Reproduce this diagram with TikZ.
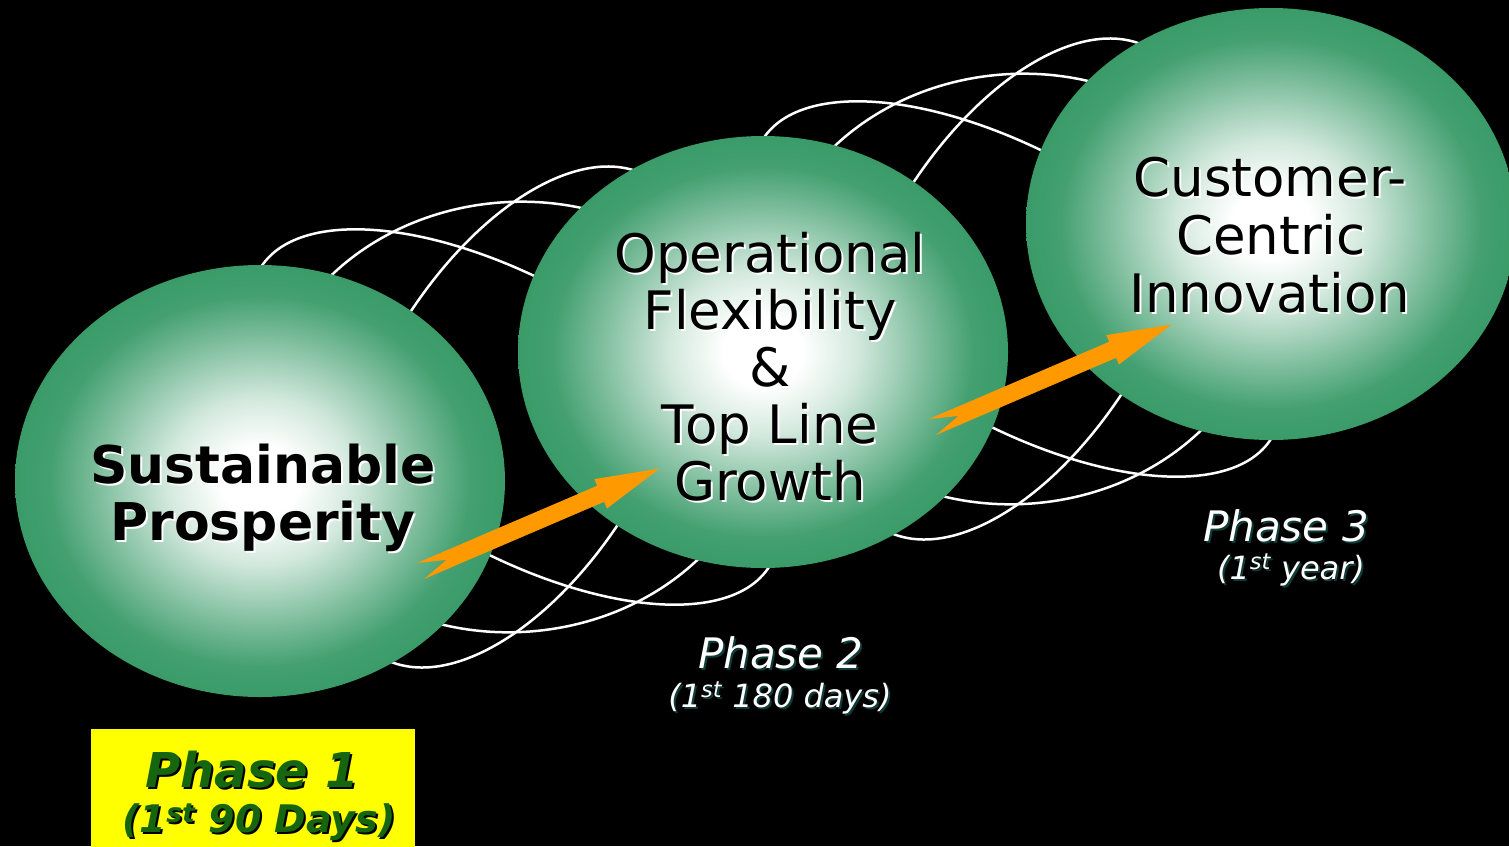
\documentclass[tikz,border=0pt]{standalone}
\usepackage{fontspec}
\setmainfont{DejaVu Sans}
\usetikzlibrary{shapes.geometric}
\definecolor{sgreen}{RGB}{58,155,105}
\colorlet{sgA}{sgreen!22!white}
\colorlet{sgB}{sgreen!62!white}
\colorlet{sgC}{sgreen!95!white}
\definecolor{arroworange}{RGB}{255,153,0}
\definecolor{pgreen}{RGB}{22,102,16}
\definecolor{tshadow}{RGB}{15,60,55}
\definecolor{pyellow}{RGB}{255,255,0}
\pgfdeclareradialshading{sphereshade}{\pgfpoint{0bp}{0bp}}{color(0bp)=(white); color(4bp)=(white); color(9.5bp)=(sgA); color(16bp)=(sgB); color(21.5bp)=(sgC); color(25bp)=(sgreen); color(50bp)=(sgreen)}
\newcommand{\mytxt}[5]{%
  \node[#2, text=#3, xshift=2pt, yshift=-2pt] (#1-sh) at (#4) {#5};
  \node[#2] (#1) at (#4) {#5};
}
\tikzset{
  wire/.style={draw=white, line width=2.5pt},
  sphere/.style={ellipse, inner sep=0pt, minimum width=490pt, minimum height=432pt, shade, shading=sphereshade},
  arrowshape/.style={fill=arroworange, draw=none},
  sphtext/.style={anchor=base, inner sep=0pt, text=black, font=\fontsize{53}{60}\selectfont},
  sphbold/.style={anchor=base, inner sep=0pt, text=black, font=\fontsize{52}{60}\selectfont\bfseries},
  phasetitle/.style={anchor=base, inner sep=0pt, text=white, font=\fontsize{42}{50}\selectfont\itshape},
  phasesub/.style={anchor=base, inner sep=0pt, text=white, font=\fontsize{32}{38}\selectfont\itshape},
  ponetitle/.style={anchor=base, inner sep=0pt, text=pgreen, font=\fontsize{48}{56}\selectfont\bfseries\itshape},
  ponesub/.style={anchor=base, inner sep=0pt, text=pgreen, font=\fontsize{38}{44}\selectfont\bfseries\itshape},
  pbox/.style={rectangle, fill=pyellow, draw=none, inner sep=0pt, minimum width=324pt, minimum height=125pt, anchor=north west}
}
\begin{document}
\begin{tikzpicture}[x=1pt, y=1pt]
\useasboundingbox (0,0) rectangle (1509,-846);
\fill[black] (0,0) rectangle (1509,-846);
% wire frames
\foreach \cx/\cy in {515/-417, 1017/-289} {
  \draw[wire, rotate around={-30:(\cx,\cy)}] (\cx,\cy) ellipse [x radius=295, y radius=134];
  \draw[wire, rotate around={5:(\cx,\cy)}] (\cx,\cy) ellipse [x radius=250, y radius=215];
  \draw[wire, rotate around={61:(\cx,\cy)}] (\cx,\cy) ellipse [x radius=275, y radius=144];
}
% spheres
\node[sphere] (sp1) at (260,-481) {};
\node[sphere] (sp2) at (763,-352) {};
\node[sphere] (sp3) at (1271,-224) {};
% arrows
\begin{scope}[shift={(420.5,-571)}, rotate=23.2]
  \coordinate (a1tail) at (0,0);
  \coordinate (a1tip) at (260,0);
  \fill[arrowshape] (0,8.75) -- (196,8.75) -- (196,16) -- (a1tip) -- (196,-16) -- (196,-8.75) -- (0,-8.75) -- (28,0) -- cycle;
\end{scope}
\begin{scope}[shift={(932.5,-427)}, rotate=23.2]
  \coordinate (a2tail) at (0,0);
  \coordinate (a2tip) at (260,0);
  \fill[arrowshape] (0,8.75) -- (196,8.75) -- (196,16) -- (a2tip) -- (196,-16) -- (196,-8.75) -- (0,-8.75) -- (28,0) -- cycle;
\end{scope}
% sphere texts
\mytxt{t1a}{sphbold}{white}{263,-483}{Sustainable}
\mytxt{t1b}{sphbold}{white}{263,-540}{Prosperity}
\mytxt{t2a}{sphtext}{white}{770,-272}{Operational}
\mytxt{t2b}{sphtext}{white}{770,-329}{Flexibility}
\mytxt{t2c}{sphtext}{white}{770,-386}{\&}
\mytxt{t2d}{sphtext}{white}{770,-443}{Top Line}
\mytxt{t2e}{sphtext}{white}{770,-500}{Growth}
\mytxt{t3a}{sphtext}{white}{1270,-196}{Customer-}
\mytxt{t3b}{sphtext}{white}{1271,-254}{Centric}
\mytxt{t3c}{sphtext}{white}{1270,-312}{Innovation}
% phase labels
\mytxt{ph2a}{phasetitle}{tshadow}{781,-668}{Phase 2}
\mytxt{ph2b}{phasesub}{tshadow}{780,-707}{(1\textsuperscript{st} 180 days)}
\mytxt{ph3a}{phasetitle}{tshadow}{1286,-541}{Phase 3}
\mytxt{ph3b}{phasesub}{tshadow}{1291,-579}{(1\textsuperscript{st} year)}
\node[pbox] (p1box) at (91,-729) {};
\mytxt{ph1a}{ponetitle}{black}{252,-787}{Phase 1}
\mytxt{ph1b}{ponesub}{black}{259,-832}{(1\textsuperscript{st} 90 Days)}
\end{tikzpicture}
\end{document}
